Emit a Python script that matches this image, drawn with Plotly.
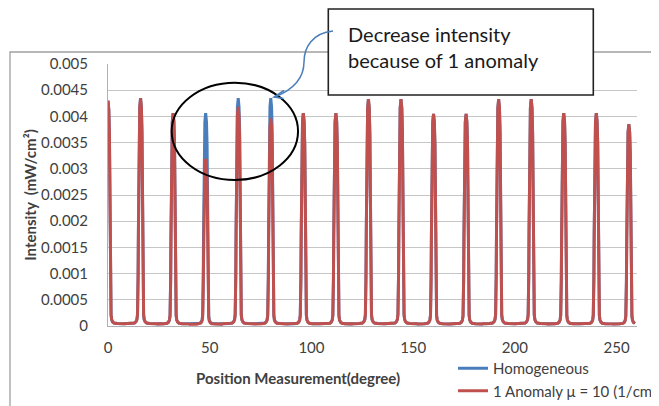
import plotly.graph_objects as go

# ---------------- data ----------------
# peak positions (degrees)
peak_pos = [0, 16, 32, 48, 64, 80, 96, 112, 128, 144, 160, 176, 192, 208, 224, 240, 256]
# peak heights (mW/cm^2)
homog_peak = [0.00430, 0.00435, 0.00406, 0.00406, 0.00435, 0.00435, 0.00406, 0.00406,
              0.00433, 0.00433, 0.00405, 0.00405, 0.00433, 0.00433, 0.00406, 0.00406, 0.00385]
anom_peak = [0.00430, 0.00435, 0.00406, 0.00319, 0.00418, 0.00396, 0.00406, 0.00406,
             0.00433, 0.00433, 0.00405, 0.00405, 0.00433, 0.00433, 0.00406, 0.00406, 0.00385]
# shape of one peak: offset from peak (deg) -> fraction of peak height
profile_offset = [0.0, 0.4, 0.7, 0.9, 1.05, 1.2, 1.35, 1.5, 1.8, 2.3, 3.0, 4.5, 7.9]
profile_frac = [1.0, 0.96, 0.85, 0.65, 0.42, 0.22, 0.10, 0.05, 0.028, 0.018, 0.013, 0.011, 0.010]

x_ticks = [0, 50, 100, 150, 200, 250]
y_ticks = [0, 0.0005, 0.001, 0.0015, 0.002, 0.0025, 0.003, 0.0035, 0.004, 0.0045, 0.005]
y_ticktext = ["0", "0.0005", "0.001", "0.0015", "0.002", "0.0025", "0.003", "0.0035", "0.004", "0.0045", "0.005"]
X_MAX = 260


def build_series(positions, heights):
    pts = {}
    for p, h in zip(positions, heights):
        for off, fr in zip(profile_offset, profile_frac):
            for s in (-1, 1):
                x = p + s * off
                if 0 <= x <= X_MAX:
                    pts[round(x, 4)] = h * fr
    xs = sorted(pts)
    return xs, [pts[x] for x in xs]


hx, hy = build_series(peak_pos, homog_peak)
ax_, ay_ = build_series(peak_pos, anom_peak)

# ---------------- layout geometry ----------------
# the page body has an 8px margin, so the figure starts at page (8, 8)
OFF = 8
W, H = 659 - OFF, 406 - OFF
PL, PR, PT, PB = 108, 637, 64, 326       # plot area in page pixels


def px_x(p):
    return (p - PL) / (PR - PL)


def px_y(p):
    return (PB - p) / (PB - PT)


def path_px(cmds):
    out = []
    for c in cmds:
        if isinstance(c, str):
            out.append(c)
        else:
            out.append("%.5f,%.5f" % (px_x(c[0]), px_y(c[1])))
    return " ".join(out)


FONT = "Lato"
TXT = "#404040"

fig = go.Figure()
fig.add_trace(go.Scatter(x=hx, y=hy, mode="lines", name="Homogeneous",
                         line=dict(color="#4a7ebb", width=3)))
fig.add_trace(go.Scatter(x=ax_, y=ay_, mode="lines", name="1 Anomaly μ = 10 (1/cm)",
                         line=dict(color="#c0504d", width=3)))

fig.update_layout(
    width=W, height=H,
    margin=dict(l=PL - OFF, r=W - (PR - OFF), t=PT - OFF, b=H - (PB - OFF), autoexpand=False),
    paper_bgcolor="white", plot_bgcolor="white",
    font=dict(family=FONT, color=TXT, size=15),
    showlegend=True,
    legend=dict(x=px_x(453), y=px_y(352), xanchor="left", yanchor="top",
                bgcolor="rgba(0,0,0,0)", font=dict(size=15, color=TXT),
                tracegroupgap=0),
    xaxis=dict(range=[0, X_MAX], tickvals=x_ticks, showgrid=False, zeroline=False,
               showline=True, linecolor="#b0b0b0", linewidth=1,
               tickfont=dict(size=15, color=TXT), ticklabelstandoff=8),
    yaxis=dict(range=[0, 0.005], tickvals=y_ticks, ticktext=y_ticktext,
               showgrid=True, gridcolor="#c6c6c6", gridwidth=1, zeroline=False,
               showline=True, linecolor="#b0b0b0", linewidth=1,
               tickfont=dict(size=15, color=TXT), ticklabelstandoff=16,
               title=dict(text="Intensity  (mW/cm²)", font=dict(size=15, color=TXT, weight="bold"),
                          standoff=0)),
)

# x-axis title (placed like in the reference, left of the plot centre)
fig.add_annotation(x=px_x(298), y=px_y(378), xref="paper", yref="paper",
                   text="<b>Position Measurement(degree)</b>", showarrow=False,
                   font=dict(size=15, color=TXT), xanchor="center", yanchor="middle")

# outer chart frame
fig.add_shape(type="rect", xref="paper", yref="paper",
              x0=px_x(10), x1=px_x(720), y0=px_y(460), y1=px_y(52),
              line=dict(color="#a0a0a0", width=1.3), fillcolor="rgba(0,0,0,0)", layer="below")

# ellipse around the decreased peaks
fig.add_shape(type="circle", xref="x", yref="y", x0=31.3, x1=93.4, y0=0.002786, y1=0.004643,
              line=dict(color="black", width=2), layer="above")

# callout box
fig.add_shape(type="rect", xref="paper", yref="paper",
              x0=px_x(328.3), x1=px_x(593.3), y0=px_y(95), y1=px_y(9),
              line=dict(color="#222222", width=1.6), fillcolor="white", layer="above")
fig.add_annotation(x=px_x(346), y=px_y(20), xref="paper", yref="paper",
                   text="Decrease intensity<br>because of 1 anomaly", showarrow=False,
                   align="left", xanchor="left", yanchor="top",
                   font=dict(size=20, color="#1a1a1a"))

# curved callout connector with open arrow head
fig.add_shape(type="path", xref="paper", yref="paper",
              path=path_px(["M", (333, 31), "C", (312, 33), (304, 48), (304, 62),
                            "C", (304, 80), (292, 90), (275, 97)]),
              line=dict(color="#4a7ebb", width=1.5), layer="above")
fig.add_shape(type="path", xref="paper", yref="paper",
              path=path_px(["M", (284, 90.5), "L", (274, 97), "L", (283.5, 98.5)]),
              line=dict(color="#4a7ebb", width=1.5), layer="above")

fig.write_html("out.html")
